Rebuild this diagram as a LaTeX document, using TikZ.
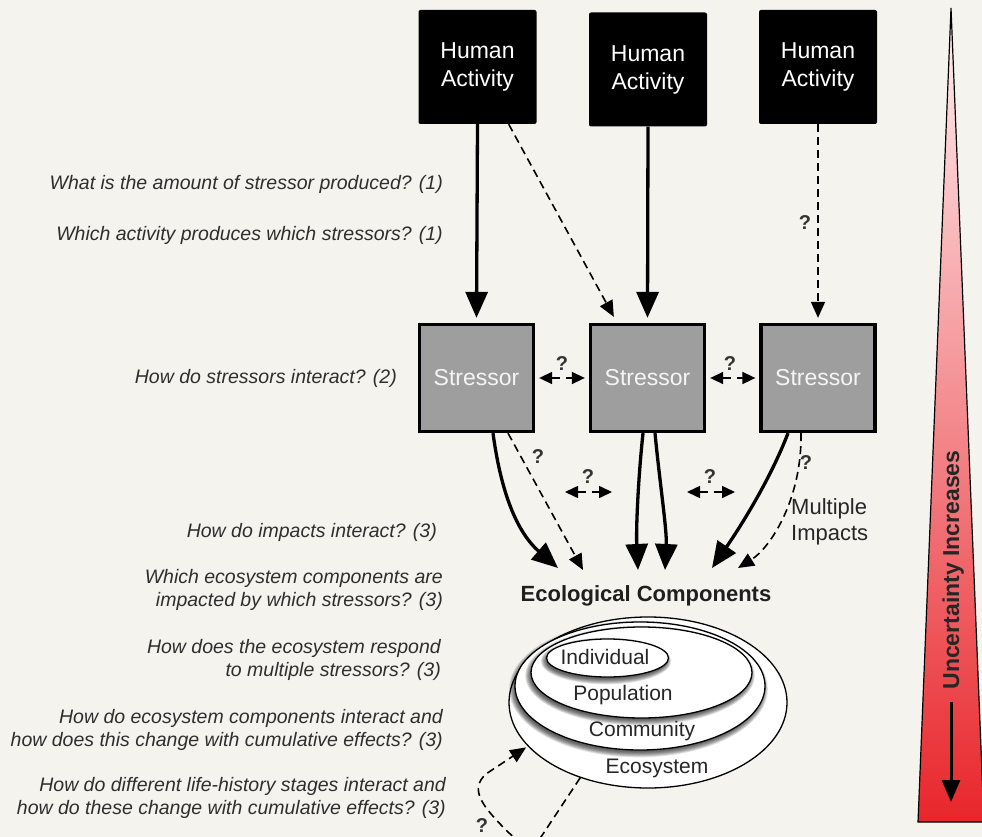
\documentclass[tikz,border=0pt]{standalone}
\usepackage{fontspec}
\setmainfont{Liberation Sans}
\usetikzlibrary{arrows.meta,shapes.geometric,calc}
\definecolor{bg}{HTML}{F4F3EE}
\definecolor{stressgray}{HTML}{9E9E9E}
\definecolor{qtext}{HTML}{2E2E2E}
\definecolor{pinktop}{HTML}{FFF0F2}
\definecolor{pinkmid}{HTML}{F6A9B2}
\definecolor{redbot}{HTML}{E8262B}
\newcommand\ellshadow[3]{%
  \foreach \k in {1,...,7}{%
    \pgfmathsetmacro\rxx{#2+\k*0.9-2}%
    \pgfmathsetmacro\ryy{#3+\k*0.9-2}%
    \fill[black,opacity=0.12] (#1) ++(-1.5,3) ellipse [x radius=\rxx, y radius=\ryy];
  }}
\begin{document}
\begin{tikzpicture}[x=1pt,y=-1pt,
  human/.style={fill=black, text=white, rounded corners=2pt, minimum width=118pt, minimum height=114pt, inner sep=0pt, align=center, font=\fontsize{23}{28}\selectfont},
  stressbox/.style={fill=stressgray, draw=black, line width=3.3pt, minimum width=114pt, minimum height=107pt, inner sep=0pt, text=white!96!black, font=\fontsize{23}{28}\selectfont},
  question/.style={anchor=east, align=right, text=qtext, inner sep=0pt, font=\fontsize{19.5}{23}\selectfont\itshape},
  qmark/.style={inner sep=0pt, text=black!80, font=\fontsize{20}{24}\selectfont\bfseries},
  solidarrow/.style={line width=3.3pt, -{Triangle[length=26pt,width=22pt]}},
  dasharrow/.style={line width=1.6pt, dash pattern=on 8pt off 5pt, -{Triangle[length=16pt,width=14pt]}},
  twoway/.style={line width=1.6pt, dash pattern=on 8pt off 6pt, {Triangle[length=13pt,width=12pt]}-{Triangle[length=13pt,width=12pt]}},
  ell/.style={ellipse, draw=black, fill=white, line width=1.3pt, inner sep=0pt},
  elabel/.style={inner sep=0pt, text=black!85, font=\fontsize{21}{25}\selectfont},
]
\useasboundingbox (0,0) rectangle (982,837);
\fill[bg] (0,0) rectangle (982,837);

% uncertainty triangle
\coordinate (tA) at (951,8);
\coordinate (tL) at (918,822);
\coordinate (tR) at (984,822);
\shade[top color=pinktop, middle color=pinkmid, bottom color=redbot] (tA) -- (tR) -- (tL) -- cycle;
\draw[line width=1.2pt, line join=miter] (tA) -- (tR) -- (tL) -- cycle;
\node[rotate=90, anchor=base, inner sep=0pt, text=black!85, font=\fontsize{23}{27}\selectfont\bfseries] (unc) at (959,570) {Uncertainty Increases};
\coordinate (ua) at (951,702);
\coordinate (ub) at (951,802);
\draw[line width=3pt, -{Triangle[length=22pt,width=18pt]}] (ua) -- (ub);

% human activities
\node[human] (h1) at (477.5,67) {Human\\Activity};
\node[human] (h2) at (648,69.5) {Human\\Activity};
\node[human] (h3) at (818,67) {Human\\Activity};

% stressors
\node[stressbox] (s1) at (476.5,378) {Stressor};
\node[stressbox] (s2) at (647.5,378) {Stressor};
\node[stressbox] (s3) at (818,378) {Stressor};

% activity -> stressor
\draw[solidarrow] (h1.south) -- ([yshift=5pt]s1.north);
\draw[dasharrow] ([xshift=-28pt]h1.south east) -- ([xshift=25pt,yshift=6pt]s2.north west);
\draw[solidarrow] (h2.south) -- ([yshift=5pt]s2.north);
\draw[dasharrow] (h3.south) -- ([yshift=5pt]s3.north);
\node[qmark] (qa) at (805,223) {?};

% stressor interactions
\draw[twoway, shorten <=4pt, shorten >=4pt] (s1.east) -- (s2.west);
\draw[twoway, shorten <=4pt, shorten >=4pt] (s2.east) -- (s3.west);
\node[qmark] (qb) at (562,364) {?};
\node[qmark] (qc) at (730,364) {?};

% impacts
\coordinate (t1) at (558,568);
\coordinate (t2) at (583,570);
\coordinate (t3) at (638,570);
\coordinate (t4) at (665,570);
\coordinate (t5) at (712,568);
\coordinate (t6) at (738,568);
\draw[solidarrow] ([xshift=16.5pt]s1.south) .. controls (502,500) and (520,535) .. (t1);
\draw[dasharrow] ([xshift=31.5pt]s1.south) -- (t2);
\draw[solidarrow] ([xshift=-4.5pt]s2.south) .. controls (638,480) and (636,530) .. (t3);
\draw[solidarrow] ([xshift=7.5pt]s2.south) .. controls (660,485) and (667,530) .. (t4);
\draw[solidarrow] ([xshift=-30pt]s3.south) .. controls (772,475) and (745,520) .. (t5);
\draw[dasharrow] ([xshift=-17pt]s3.south) .. controls (802,500) and (770,548) .. (t6);
\node[qmark] (qd) at (538,457) {?};
\node[qmark] (qe) at (806,463) {?};

% impact interactions
\coordinate (m1a) at (565,492);
\coordinate (m1b) at (612,492);
\coordinate (m2a) at (687,492);
\coordinate (m2b) at (735,492);
\draw[twoway] (m1a) -- (m1b);
\draw[twoway] (m2a) -- (m2b);
\node[qmark] (qf) at (588,477) {?};
\node[qmark] (qg) at (710,477) {?};

\node[anchor=west, align=left, inner sep=0pt, text=black!85, font=\fontsize{22}{26}\selectfont] (mi) at (791,522) {Multiple\\Impacts};

\node[inner sep=0pt, text=black!88, font=\fontsize{22}{26}\selectfont\bfseries] (ec) at (646,596) {Ecological Components};

% ecological components
\node[ell, minimum width=278pt, minimum height=171pt] (eco) at (648,702.5) {};
\ellshadow{640,686}{125}{64}
\node[ell, minimum width=250pt, minimum height=128pt] (com) at (640,686) {};
\ellshadow{641.5,672.5}{110.5}{45.5}
\node[ell, minimum width=221pt, minimum height=91pt] (pop) at (641.5,672.5) {};
\ellshadow{607.5,658}{61}{19}
\node[ell, minimum width=122pt, minimum height=38pt] (ind) at (607.5,658) {};
\node[elabel] (lind) at (605,657) {Individual};
\node[elabel] (lpop) at (623,695) {Population};
\node[elabel] (lcom) at (642,731) {Community};
\node[elabel] (leco) at (657,768) {Ecosystem};

% feedback loop
\draw[dasharrow, shorten >=2pt] (eco.228) -- (543,834) .. controls (533,850) and (520,845) .. (503,827) .. controls (485,808) and (468,790) .. (486,774) -- (eco.200);
\node[qmark] (qh) at (482,826) {?};

% questions
\node[question] (q1) at (443,184.5) {What is the amount of stressor produced? (1)};
\node[question] (q2) at (443,235) {Which activity produces which stressors? (1)};
\node[question] (q3) at (397,378) {How do stressors interact? (2)};
\node[question] (q4) at (437,532) {How do impacts interact? (3)};
\node[question] (q5) at (443,590) {Which ecosystem components are\\impacted by which stressors? (3)};
\node[question] (q6) at (441,660) {How does the ecosystem respond\\to multiple stressors? (3)};
\node[question] (q7) at (443,729.5) {How do ecosystem components interact and\\how does this change with cumulative effects? (3)};
\node[question] (q8) at (446,798) {How do different life-history stages interact and\\how do these change with cumulative effects? (3)};
\end{tikzpicture}
\end{document}
